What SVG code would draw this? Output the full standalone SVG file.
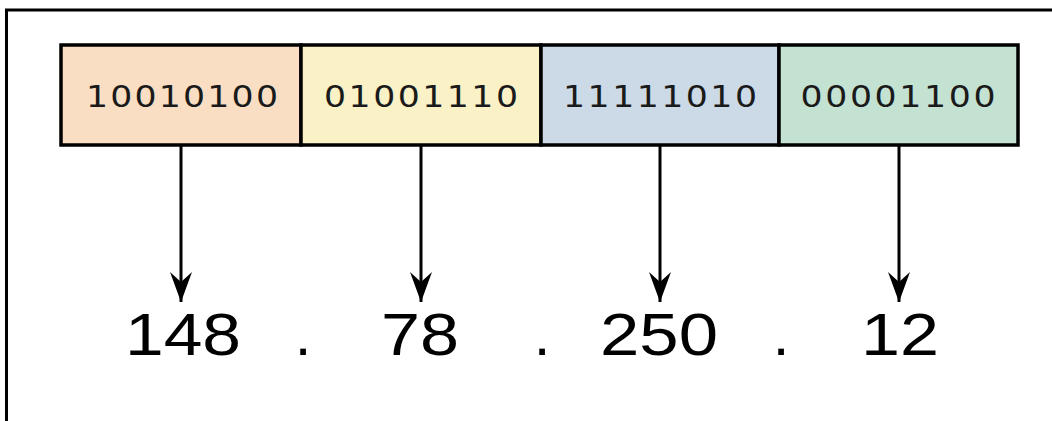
<svg xmlns="http://www.w3.org/2000/svg" width="1052" height="421" viewBox="0 0 1052 421">
  <style>
    .box { stroke: #000; stroke-width: 3.5; }
    .bin { font-family: "DejaVu Sans", "Liberation Sans", sans-serif; font-size: 31px; fill: #1a1a1a; text-anchor: middle; }
    .num { font-family: "Liberation Sans", Arial, sans-serif; font-size: 60px; fill: #000; text-anchor: middle; }
    .conn { stroke: #000; stroke-width: 3; fill: none; marker-end: url(#arr); }
  </style>
  <defs>
    <marker id="arr" markerUnits="userSpaceOnUse" markerWidth="31" markerHeight="23" viewBox="0 0 31 23" refX="30" refY="11.5" orient="auto">
      <path d="M0,0.5 L30,11.5 L0,22.5 L10,11.5 z" fill="#000"/>
    </marker>
  </defs>
  <rect width="1052" height="421" fill="#fff"/>
  <path d="M6.5,421 L6.5,10 L1052,10" fill="none" stroke="#000" stroke-width="3"/>

  <g id="byte1">
    <rect class="box" x="61" y="45" width="240" height="100" fill="#f9dec3"/>
    <text class="bin" transform="scale(1.12,1)" x="162.5" y="107" textLength="171.4" lengthAdjust="spacing">10010100</text>
  </g>
  <g id="byte2">
    <rect class="box" x="301" y="45" width="240" height="100" fill="#faf1c7"/>
    <text class="bin" transform="scale(1.12,1)" x="375.9" y="107" textLength="173.2" lengthAdjust="spacing">01001110</text>
  </g>
  <g id="byte3">
    <rect class="box" x="541" y="45" width="238" height="100" fill="#ccd9e6"/>
    <text class="bin" transform="scale(1.12,1)" x="589.3" y="107" textLength="173.2" lengthAdjust="spacing">11111010</text>
  </g>
  <g id="byte4">
    <rect class="box" x="779" y="45" width="239" height="100" fill="#c4e2d2"/>
    <text class="bin" transform="scale(1.12,1)" x="801.8" y="107" textLength="174.1" lengthAdjust="spacing">00001100</text>
  </g>

  <g id="connectors">
    <line class="conn" x1="181" y1="146" x2="181" y2="302"/>
    <line class="conn" x1="421" y1="146" x2="421" y2="302"/>
    <line class="conn" x1="660" y1="146" x2="660" y2="302"/>
    <line class="conn" x1="899" y1="146" x2="899" y2="302"/>
  </g>

  <g id="decimal">
    <text class="num" x="183" y="355" textLength="116" lengthAdjust="spacingAndGlyphs">148</text>
    <text class="num" x="303" y="355">.</text>
    <text class="num" x="420" y="355" textLength="78" lengthAdjust="spacingAndGlyphs">78</text>
    <text class="num" x="542" y="355">.</text>
    <text class="num" x="659" y="355" textLength="118" lengthAdjust="spacingAndGlyphs">250</text>
    <text class="num" x="781" y="355">.</text>
    <text class="num" x="900" y="355" textLength="78" lengthAdjust="spacingAndGlyphs">12</text>
  </g>
</svg>
